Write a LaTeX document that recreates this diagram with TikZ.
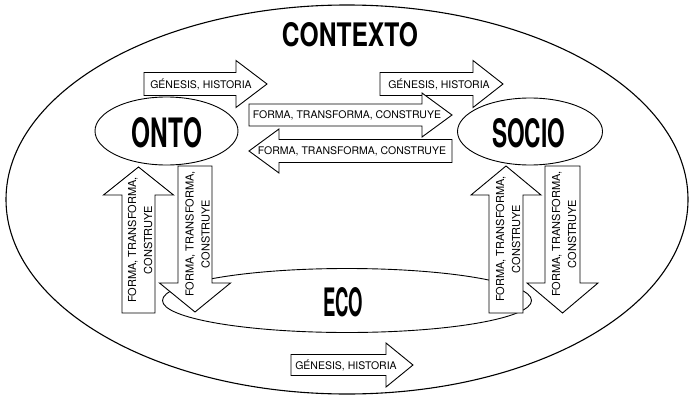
\documentclass[tikz,border=0pt]{standalone}
\usepackage{fontspec}
\setmainfont{TeX Gyre Heros}
\newfontfamily\labfont{TeX Gyre Heros}
\usetikzlibrary{shapes.geometric}

% horizontal block arrow: tail x, head base x, tip x, centre y, shaft half width, head half width
\newcommand\harrow[6]{%
  \draw[arrowbox] (#1,#4-#5) -- (#2,#4-#5) -- (#2,#4-#6) -- (#3,#4)
    -- (#2,#4+#6) -- (#2,#4+#5) -- (#1,#4+#5) -- cycle;}
% vertical block arrow: tail y, head base y, tip y, centre x, shaft half width, head half width
\newcommand\varrow[6]{%
  \draw[arrowbox] (#4-#5,#1) -- (#4-#5,#2) -- (#4-#6,#2) -- (#4,#3)
    -- (#4+#6,#2) -- (#4+#5,#2) -- (#4+#5,#1) -- cycle;}
% bold title word stretched to a given width and height
\newcommand\bigword[3]{\resizebox{#1pt}{#2pt}{\bfseries #3}}

\begin{document}
\begin{tikzpicture}[x=1pt,y=-1pt,
  arrowbox/.style={draw=black,fill=white,line width=0.9pt,line join=miter},
  ring/.style={draw=black,line width=0.9pt,ellipse,inner sep=0pt},
  hlabel/.style={inner sep=0pt,font=\labfont\fontsize{10.5}{12}\selectfont},
  vlabel/.style={inner sep=0pt,rotate=90,align=center,
    font=\labfont\fontsize{11}{16}\selectfont},
  title/.style={inner sep=0pt}]
\useasboundingbox (0,0) rectangle (690,396);

% context and the three spheres
\node[ring,line width=1.1pt,minimum width=682pt,minimum height=389pt] (contexto) at (347,199.5) {};
\node[ring,minimum width=369pt,minimum height=64pt] (eco) at (347,300.5) {};
\node[ring,minimum width=143pt,minimum height=68pt] (onto) at (166.5,131) {};
\node[ring,minimum width=145pt,minimum height=67pt] (socio) at (530,131.5) {};

\node[title] (tcontexto) at (350,35) {\bigword{136}{24}{CONTEXTO}};
\node[title] (tonto) at (167,133) {\bigword{70}{30}{ONTO}};
\node[title] (tsocio) at (528.5,133.5) {\bigword{73}{29}{SOCIO}};
\node[title] (teco) at (343,302.5) {\bigword{40}{29}{ECO}};

% horizontal arrows
\harrow{144}{236}{267}{84}{11.5}{23.5}
\harrow{380}{473}{503}{84}{11.5}{23.5}
\harrow{249}{422}{452}{115}{11}{22}
\harrow{452}{279}{249}{151}{11.5}{22}
\harrow{291}{386}{413}{365}{10.5}{22}

\node[hlabel] (gA) at (201,84) {GÉNESIS, HISTORIA};
\node[hlabel] (gB) at (439,84) {GÉNESIS, HISTORIA};
\node[hlabel] (fC) at (347,115) {FORMA, TRANSFORMA, CONSTRUYE};
\node[hlabel] (fD) at (352,151) {FORMA, TRANSFORMA, CONSTRUYE};
\node[hlabel] (gE) at (346,365) {GÉNESIS, HISTORIA};

% vertical arrows
\varrow{313}{195}{167}{138.5}{16.5}{35}
\varrow{166}{283}{312}{195}{17}{35.5}
\varrow{313}{195}{166}{506}{17}{35}
\varrow{166}{283}{313}{562.5}{17.5}{35.5}

\node[vlabel] (v1) at (140,240) {FORMA, TRANSFORMA,\\CONSTRUYE};
\node[vlabel] (v2) at (197.5,234) {FORMA, TRANSFORMA,\\CONSTRUYE};
\node[vlabel] (v3) at (508,239) {FORMA, TRANSFORMA,\\CONSTRUYE};
\node[vlabel] (v4) at (564,234) {FORMA, TRANSFORMA,\\CONSTRUYE};
\end{tikzpicture}
\end{document}
